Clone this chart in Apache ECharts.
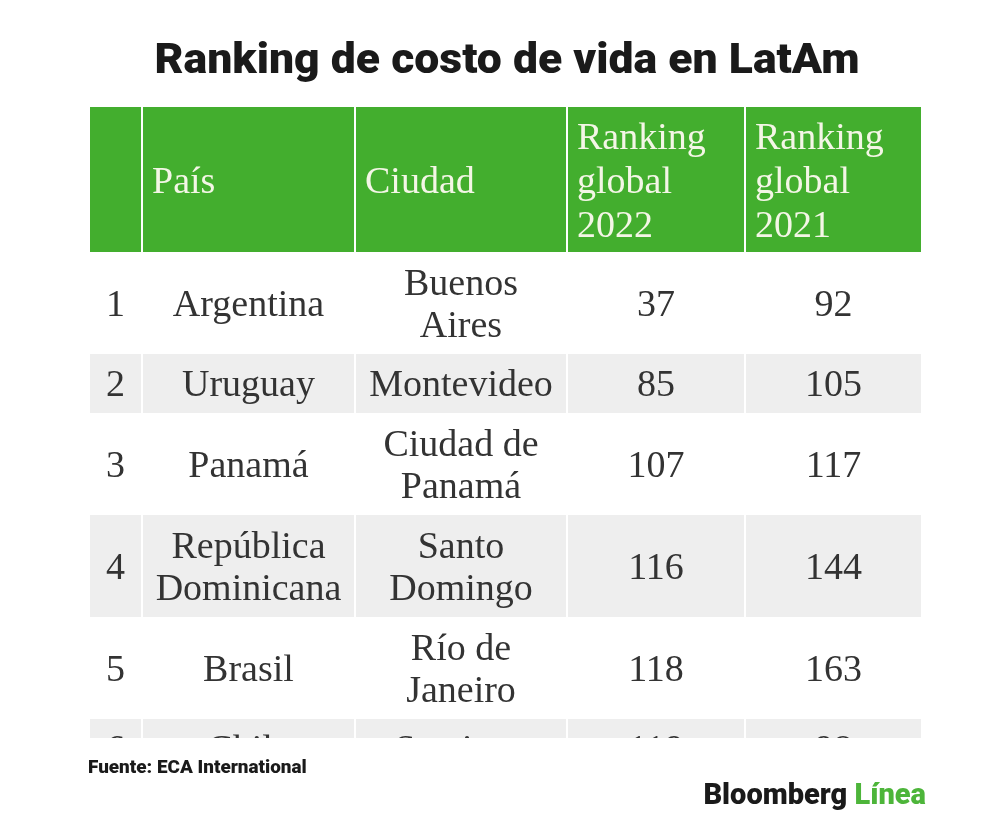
<!DOCTYPE html>
<html>
<head>
<meta charset="utf-8">
<script src="https://cdn.jsdelivr.net/npm/echarts@6/dist/echarts.min.js"></script>
<style>html,body{margin:0;padding:0;background:#fff}#c{width:1000px;height:817px}</style>
</head>
<body>
<div id="c"></div>
<script>
// ---- data ----
const titleText = 'Ranking de costo de vida en LatAm';
const sourceText = 'Fuente: ECA International';
const headers = ['', 'País', 'Ciudad', 'Ranking\nglobal\n2022', 'Ranking\nglobal\n2021'];
const ranks = [1, 2, 3, 4, 5, 6];
const countries = ['Argentina', 'Uruguay', 'Panamá', 'República\nDominicana', 'Brasil', 'Chile'];
const cities = ['Buenos\nAires', 'Montevideo', 'Ciudad de\nPanamá', 'Santo\nDomingo', 'Río de\nJaneiro', 'Santiago'];
const rank2022 = [37, 85, 107, 116, 118, 119];
const rank2021 = [92, 105, 117, 144, 163, 98];

// ---- layout (style, not data) ----
const colEdges = [0, 53, 266, 478, 656, 833];
const LINE = 43, PAD = 16;
function lines(s) { return String(s).split('\n').length; }
const rowsText = [headers].concat(ranks.map((r, i) => [String(r), countries[i], cities[i], String(rank2022[i]), String(rank2021[i])]));
const rowHeights = rowsText.map(row => Math.max(...row.map(lines)) * LINE + PAD);
const rowTops = [];
rowHeights.reduce((acc, h) => { rowTops.push(acc); return acc + h; }, 0);

const cells = [];
rowsText.forEach((row, r) => row.forEach((t, c) => cells.push([c, r, t])));

const GREEN = '#43ae2e';
const GRAY = '#eeeeee';
const SANS = 'Roboto, "Liberation Sans", sans-serif';

const chart = echarts.init(document.getElementById('c'), null, {renderer: 'canvas'});
chart.setOption({
  backgroundColor: '#ffffff',
  animation: false,
  graphic: [
    {
      type: 'text', x: 507, y: 62, scaleX: 1.06,
      style: {text: titleText, align: 'center', verticalAlign: 'middle',
        font: '900 42px ' + SANS, fill: '#1a1a1a'}
    },
    {
      type: 'text', x: 88, y: 768, scaleX: 1.05,
      style: {text: sourceText, align: 'left', verticalAlign: 'middle',
        font: '900 18px ' + SANS, fill: '#1a1a1a'}
    },
    {
      type: 'text', x: 926, y: 797,
      style: {
        text: '{a|Bloomberg }{b|Línea}', align: 'right', verticalAlign: 'middle',
        rich: {
          a: {font: '900 29px ' + SANS, fill: '#1a1a1a'},
          b: {font: '900 29px ' + SANS, fill: '#4db53a'}
        }
      }
    }
  ],
  grid: {left: 89, right: 78, top: 107, bottom: 79},
  xAxis: {type: 'value', min: 0, max: 833, show: false},
  yAxis: {type: 'value', min: 0, max: 631, inverse: true, show: false},
  series: [{
    type: 'custom',
    clip: true,
    data: cells,
    encode: {x: 0, y: 1},
    renderItem: function (params, api) {
      const c = api.value(0), r = api.value(1);
      const t = cells[params.dataIndex][2];
      const p0 = api.coord([colEdges[c], rowTops[r]]);
      const p1 = api.coord([colEdges[c + 1], rowTops[r] + rowHeights[r]]);
      const x = p0[0], y = p0[1], w = p1[0] - p0[0], h = p1[1] - p0[1];
      const header = r === 0;
      const fill = header ? GREEN : (r % 2 === 0 ? GRAY : '#ffffff');
      const children = [{
        type: 'rect',
        shape: {x: x + 1, y: y, width: w - 2, height: h},
        style: {fill: fill}
      }];
      if (t !== '') {
        children.push({
          type: 'text',
          style: {
            text: t,
            x: header ? x + 10 : x + w / 2,
            y: y + h / 2 + (header ? 4 : 3),
            align: header ? 'left' : 'center',
            verticalAlign: 'middle',
            font: '38px "Liberation Serif", "DejaVu Serif", serif',
            lineHeight: header ? 44 : 42,
            fill: header ? '#f4f6e6' : '#333333'
          }
        });
      }
      return {type: 'group', children: children};
    }
  }]
});
</script>
</body>
</html>
